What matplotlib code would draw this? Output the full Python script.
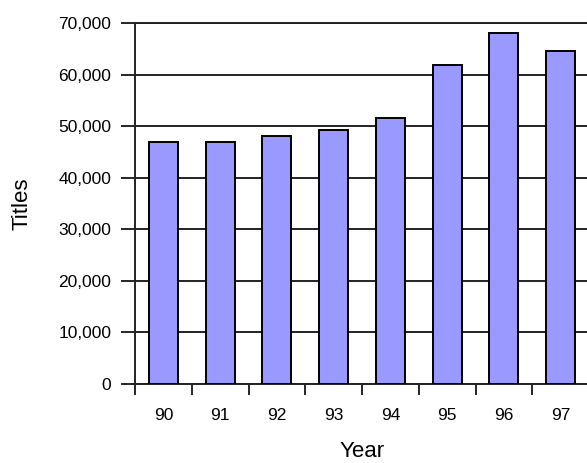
import numpy as np
import matplotlib.pyplot as plt
from matplotlib.ticker import FuncFormatter, MultipleLocator

# Global fonts
plt.rcParams['font.family'] = ['Liberation Sans', 'DejaVu Sans']
TICK_SIZE = 12.5
LABEL_SIZE = 16

# Titles published per year
years = ["90", "91", "92", "93", "94", "95", "96", "97"]
titles = [46900, 46900, 48100, 49200, 51500, 61900, 68000, 64500]

fig = plt.figure(figsize=(5.87, 4.63), dpi=100)
# plot area runs slightly past the right edge of the picture, as in the original
ax = fig.add_axes([135 / 587, 79 / 463, 454 / 587, 361 / 463])

x = np.arange(len(years))
ax.bar(x, titles, width=0.51, color="#9999ff", edgecolor="black", linewidth=1.4, zorder=3)

ax.set_xlim(-0.5, len(years) - 0.5)
ax.set_ylim(0, 70000)

# y axis: comma thousands, dark gridlines
ax.yaxis.set_major_locator(MultipleLocator(10000))
ax.yaxis.set_major_formatter(FuncFormatter(lambda v, p: f"{int(v):,}"))
ax.yaxis.grid(True, color="#222222", linewidth=1.4, zorder=1)
ax.set_axisbelow(True)
ax.tick_params(axis="y", direction="out", length=10, width=1.2, pad=7, labelsize=TICK_SIZE)

# x axis: labels at centres, tick marks between categories
ax.set_xticks(x)
ax.set_xticklabels(years)
ax.set_xticks(np.arange(-0.5, len(years), 1.0), minor=True)
ax.tick_params(axis="x", which="major", length=0, pad=17, labelsize=TICK_SIZE)
ax.tick_params(axis="x", which="minor", direction="out", length=8, width=1.2)

for side in ["left", "bottom", "top"]:
    ax.spines[side].set_linewidth(1.4)
    ax.spines[side].set_color("#222222")
ax.spines["right"].set_visible(False)

ax.set_ylabel("Titles", fontsize=LABEL_SIZE)
ax.set_xlabel("Year", fontsize=LABEL_SIZE)
ax.yaxis.set_label_coords(-0.225, 0.5)
ax.xaxis.set_label_coords(0.5, -0.158)

plt.savefig("out.png", dpi=100)
